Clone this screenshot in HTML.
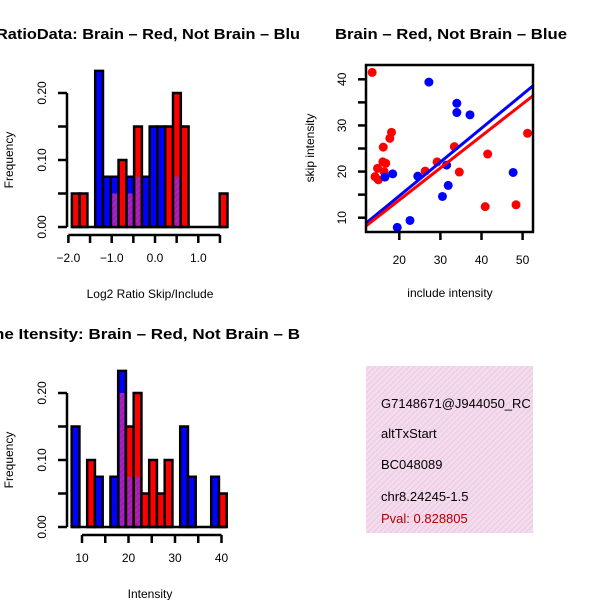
<!DOCTYPE html>
<html><head><meta charset="utf-8"><style>
html,body{margin:0;padding:0;background:#fff}
svg{display:block;font-family:"Liberation Sans",sans-serif}
</style></head><body>
<svg id="s" width="600" height="600" viewBox="0 0 600 600">
<defs>
<pattern id="hatch" width="4" height="4" patternUnits="userSpaceOnUse" patternTransform="rotate(45)">
<rect width="4" height="4" fill="#9a1fb0"/><rect width="2" height="4" fill="#b020c0"/>
</pattern>
<pattern id="pinkhatch" width="4" height="4" patternUnits="userSpaceOnUse" patternTransform="rotate(45)">
<rect width="4" height="4" fill="#f7d9f0"/><rect width="1" height="4" fill="#e2cfd8"/>
</pattern>
</defs>
<text x="-4" y="39" font-size="15" font-weight="bold" textLength="304" lengthAdjust="spacingAndGlyphs">RatioData: Brain – Red, Not Brain – Blu</text>
<text x="335" y="39" font-size="15" font-weight="bold" textLength="232" lengthAdjust="spacingAndGlyphs">Brain – Red, Not Brain – Blue</text>
<text x="-6" y="339" font-size="15" font-weight="bold" textLength="306" lengthAdjust="spacingAndGlyphs">ne Itensity: Brain – Red, Not Brain – B</text>
<g id="info">
<rect x="366" y="366" width="167" height="167" fill="url(#pinkhatch)"/>
<text x="381" y="408" font-size="13">G7148671@J944050_RC</text>
<text x="381" y="438" font-size="13">altTxStart</text>
<text x="381" y="469" font-size="13">BC048089</text>
<text x="381" y="501" font-size="13">chr8.24245-1.5</text>
<text x="381" y="523" font-size="13" fill="#b00000">Pval: 0.828805</text>
</g>
<rect x="533" y="366" width="67" height="170" fill="#fff"/>
</svg>
<script>
// Ratio histogram data (20 bins)
const ratioRed  = [0.05,0.05,0,0,0,0.05,0.1,0.05,0.15,0,0,0,0.15,0.2,0.15,0,0,0,0,0.05];
const ratioBlue = [0,0,0,0.233,0.075,0.075,0,0.075,0.075,0.075,0.15,0.15,0,0.075,0,0,0,0,0,0];
const ratioBinStart = -1.92, ratioBinWidth = 0.1797;
const ratioXTicks = [-2.0,-1.5,-1.0,-0.5,0.0,0.5,1.0,1.5];
const ratioXLabels = ["-2.0","-1.0","0.0","1.0"];
const freqTicks = [0,0.05,0.10,0.15,0.20];
const freqLabels = ["0.00","0.10","0.20"];
// Intensity histogram data
const intRed  = [0,0,0.1,0,0,0,0.2,0.15,0.2,0.05,0.1,0.05,0.1,0,0,0,0,0,0,0.05];
const intBlue = [0.15,0,0,0.075,0,0.075,0.233,0.075,0.075,0,0,0,0,0,0.15,0.075,0,0,0.075,0];
const intBinStart = 7.78, intBinWidth = 1.667;
const intXTicks = [10,15,20,25,30,35,40];
const intXLabels = ["10","20","30","40"];
// Scatter data
const redX = [13.4,16.1,17.7,18.1,16.0,16.7,14.7,16.3,14.1,14.9,26.3,29.2,33.4,34.6,40.9,41.5,48.4,51.2];
const redY = [41.5,25.3,27.2,28.5,22.1,21.8,20.7,20.0,18.9,18.2,20.1,22.1,25.4,19.9,12.4,23.8,12.8,28.3];
const blueX = [27.2,34.0,34.0,37.2,16.5,18.4,24.5,31.5,31.9,30.5,19.5,22.6,47.7];
const blueY = [39.4,34.8,32.8,32.3,18.8,19.5,19.0,21.4,17.0,14.6,7.9,9.4,19.8];
const redFit = [-0.07,0.695], blueFit = [0.08,0.733];
const scatXTicks = [20,30,40,50], scatYTicks = [10,15,20,25,30,35,40];
const scatYLabels = [10,20,30,40];

const svg = document.getElementById('s');
const NS = 'http://www.w3.org/2000/svg';
function mk(tag, attrs, parent){const e=document.createElementNS(NS,tag);for(const k in attrs)e.setAttribute(k,attrs[k]);(parent||svg).appendChild(e);return e;}

function hist(red, blue, start, width, xs, ys, xTicks, xLabels, axisY, prefix, xTitle){
  const g = mk('g',{});
  
  
  const y0 = ys(0);
  for(let i=0;i<red.length;i++){
    const r=red[i], b=blue[i];
    if(r===0&&b===0) continue;
    const xa=xs(start+i*width), xb=xs(start+(i+1)*width);
    const hi=Math.max(r,b), lo=Math.min(r,b);
    const bar=mk('rect',{x:xa,y:ys(hi),width:xb-xa,height:y0-ys(hi),fill:r>=b?'#ff0000':'#0000ff',stroke:'#000','stroke-width':2.5},g);
    
    
    if(lo>0){
      const ov=mk('rect',{x:xa+1.5,y:ys(lo),width:xb-xa-3,height:y0-ys(lo)-1,fill:'url(#hatch)'},g);
      
      
    }
  }
  mk('line',{x1:xs(start),x2:xs(start+red.length*width),y1:y0,y2:y0,stroke:'#000','stroke-width':2.5},g);
  const ya=mk('g',{},g);
  
  
  mk('line',{x1:67,x2:67,y1:ys(freqTicks[0]),y2:ys(freqTicks[freqTicks.length-1]),stroke:'#000','stroke-width':2.5},ya);
  freqTicks.forEach(t=>mk('line',{x1:58,x2:67,y1:ys(t),y2:ys(t),stroke:'#000','stroke-width':2.5},ya));
  freqLabels.forEach(l=>{const tx=mk('text',{x:0,y:0,'font-size':12,'text-anchor':'middle',transform:`translate(46,${ys(parseFloat(l))}) rotate(-90)`},ya);tx.textContent=l;});
  const yt=mk('text',{'font-size':12,'text-anchor':'middle',transform:`translate(13,${ys(0.1)}) rotate(-90)`},g);
  yt.textContent='Frequency';
  
  
  const xa=mk('g',{},g);
  
  
  mk('line',{x1:xs(xTicks[0]),x2:xs(xTicks[xTicks.length-1]),y1:axisY,y2:axisY,stroke:'#000','stroke-width':2.5},xa);
  xTicks.forEach(t=>mk('line',{x1:xs(t),x2:xs(t),y1:axisY,y2:axisY+8,stroke:'#000','stroke-width':2.5},xa));
  xLabels.forEach(l=>{const tx=mk('text',{x:xs(parseFloat(l)),y:axisY+27,'font-size':12,'text-anchor':'middle'},xa);tx.textContent=l.replace('-','−');});
  const xt=mk('text',{x:150,y:axisY+63,'font-size':12,'text-anchor':'middle'},g);
  xt.textContent=xTitle;
  
  
}
hist(ratioRed, ratioBlue, ratioBinStart, ratioBinWidth, v=>155+v*43.3, f=>227-f*670, ratioXTicks, ratioXLabels, 235, 'ratio', 'Log2 Ratio Skip/Include');
hist(intRed, intBlue, intBinStart, intBinWidth, v=>82+(v-10)*4.65, f=>527-f*670, intXTicks, intXLabels, 535, 'intensity', 'Intensity');

const sx=v=>399.3+(v-20)*4.11, sy=v=>217.7-(v-10)*4.613;
const sg=mk('g',{});


mk('clipPath',{id:'sc'},sg); mk('rect',{x:366,y:65,width:167,height:167},document.getElementById('sc'));
const pts=mk('g',{'clip-path':'url(#sc)'},sg);
function pt(x,y,c,n){const p=mk('circle',{cx:sx(x),cy:sy(y),r:4.5,fill:c},pts);}
redX.forEach((x,i)=>pt(x,redY[i],'#ff0000','red-point'));
blueX.forEach((x,i)=>pt(x,blueY[i],'#0000ff','blue-point'));
function fit(f,c,n){const l=mk('line',{x1:sx(10),y1:sy(f[0]+f[1]*10),x2:sx(55),y2:sy(f[0]+f[1]*55),stroke:c,'stroke-width':3},pts);}
fit(blueFit,'#0000ff','blue-fit-line');
fit(redFit,'#ff0000','red-fit-line');
mk('rect',{x:366,y:65,width:167,height:167,fill:'none',stroke:'#000','stroke-width':2.5},sg);
scatXTicks.forEach(t=>{mk('line',{x1:sx(t),x2:sx(t),y1:232,y2:240,stroke:'#000','stroke-width':2.5},sg);const tx=mk('text',{x:sx(t),y:264,'font-size':12,'text-anchor':'middle'},sg);tx.textContent=t;});
scatYTicks.forEach(t=>mk('line',{x1:358,x2:366,y1:sy(t),y2:sy(t),stroke:'#000','stroke-width':2.5},sg));
scatYLabels.forEach(t=>{const tx=mk('text',{'font-size':12,'text-anchor':'middle',transform:`translate(346,${sy(t)}) rotate(-90)`},sg);tx.textContent=t;});
const sxt=mk('text',{x:450,y:297,'font-size':12,'text-anchor':'middle'},sg);sxt.textContent='include intensity';


const syt=mk('text',{'font-size':12,'text-anchor':'middle',transform:'translate(314,148) rotate(-90)'},sg);syt.textContent='skip intensity';


</script>
</body></html>
